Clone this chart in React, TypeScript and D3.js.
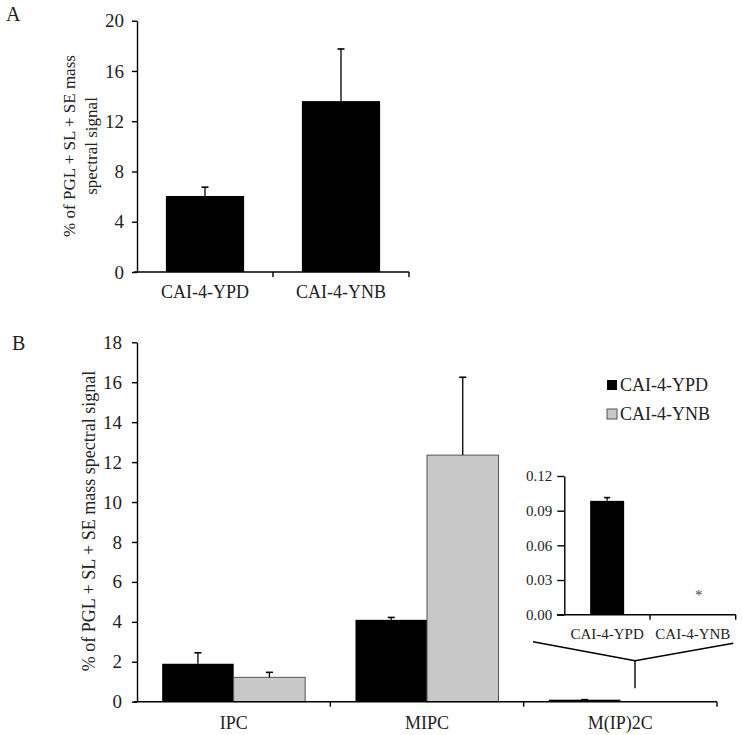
import React, { useEffect, useRef } from 'react'
import * as d3 from 'd3'

// panel A
const strainsA = ['CAI-4-YPD', 'CAI-4-YNB']
const totalA = [6.05, 13.6]
const totalErrA = [0.7, 4.15]
const ticksA = [0, 4, 8, 12, 16, 20]

// panel B
const lipidClasses = ['IPC', 'MIPC', 'M(IP)2C']
const series = ['CAI-4-YPD', 'CAI-4-YNB']
const ypdValues = [1.9, 4.1, 0.1]
const ypdErr = [0.55, 0.12, 0.003]
const ynbValues = [1.22, 12.35, 0]
const ynbErr = [0.25, 3.9, 0]
const ticksB = [0, 2, 4, 6, 8, 10, 12, 14, 16, 18]

// inset (M(IP)2C zoom)
const insetValues = [0.0985, 0]
const insetErr = [0.0028, 0]
const ticksInset = [0, 0.03, 0.06, 0.09, 0.12]

const colors = ['#000000', '#c8c8c8']
const FONT = '"Liberation Serif", "Times New Roman", serif'

const App = () => {
  const ref = useRef<SVGSVGElement>(null)

  useEffect(() => {
    const svg = d3.select(ref.current)
    svg.selectAll('*').remove()
    svg.attr('font-family', FONT)

    const styleAxis = (g: any, fs: number) => {
      g.select('.domain').attr('stroke', '#000').attr('stroke-width', 1.4)
      g.selectAll('.tick line').attr('stroke', '#000').attr('stroke-width', 1.4)
      g.selectAll('.tick text').attr('font-size', fs).attr('font-family', FONT).attr('fill', '#222')
    }

    const errorBars = (g: any, data: { x: number; top: number; y: number }[], cap: number) => {
      data.forEach(d => {
        if (d.top === d.y) return
        g.append('line').attr('x1', d.x).attr('x2', d.x).attr('y1', d.y).attr('y2', d.top)
          .attr('stroke', '#000').attr('stroke-width', 1.3)
        g.append('line').attr('x1', d.x - cap).attr('x2', d.x + cap).attr('y1', d.top).attr('y2', d.top)
          .attr('stroke', '#000').attr('stroke-width', 1.6)
      })
    }

    // ---------- panel A ----------
    const xA = d3.scaleBand().domain(strainsA).range([137, 409])
    const yA = d3.scaleLinear().domain([0, 20]).range([272, 20.7])
    const gA = svg.append('g')
    const bwA = xA.bandwidth() * 0.575

    gA.selectAll('rect').data(strainsA).join('rect')
      .attr('x', d => xA(d)! + (xA.bandwidth() - bwA) / 2)
      .attr('y', (d, i) => yA(totalA[i]))
      .attr('width', bwA)
      .attr('height', (d, i) => yA(0) - yA(totalA[i]))
      .attr('fill', '#000')

    errorBars(gA, strainsA.map((d, i) => ({
      x: xA(d)! + xA.bandwidth() / 2, y: yA(totalA[i]), top: yA(totalA[i] + totalErrA[i])
    })), 3.5)

    gA.append('g').attr('transform', `translate(137,0)`)
      .call(d3.axisLeft(yA).tickValues(ticksA).tickSize(5).tickPadding(8).tickSizeOuter(0))
      .call(g => styleAxis(g, 19))

    const axA = gA.append('g').attr('transform', `translate(0,272)`)
    axA.append('line').attr('x1', 134).attr('x2', 409).attr('stroke', '#000').attr('stroke-width', 1.4)
    strainsA.slice(1).forEach(d => {
      axA.append('line').attr('x1', xA(d)!).attr('x2', xA(d)!).attr('y2', 5).attr('stroke', '#000').attr('stroke-width', 1.4)
    })
    axA.append('line').attr('x1', 409).attr('x2', 409).attr('y2', 5).attr('stroke', '#000').attr('stroke-width', 1.4)
    strainsA.forEach(d => {
      axA.append('text').attr('x', xA(d)! + xA.bandwidth() / 2).attr('y', 26)
        .attr('text-anchor', 'middle').attr('font-size', 18).attr('fill', '#222').text(d)
    })

    const labA = gA.append('text').attr('transform', 'translate(75,146) rotate(-90)')
      .attr('text-anchor', 'middle').attr('font-size', 17).attr('fill', '#222')
    labA.append('tspan').attr('x', 0).attr('dy', 0).text('% of PGL + SL + SE mass')
    labA.append('tspan').attr('x', 0).attr('dy', 22).text('spectral signal')

    svg.append('text').attr('x', 6).attr('y', 21).attr('font-size', 20).attr('fill', '#222').text('A')

    // ---------- panel B ----------
    const x0 = d3.scaleBand().domain(lipidClasses).range([137, 717])
    const x1 = d3.scaleBand().domain(series).range([0, x0.bandwidth()]).paddingInner(0).paddingOuter(0.352)
    const yB = d3.scaleLinear().domain([0, 18]).range([701.7, 342.3])
    const gB = svg.append('g')
    const vals = [ypdValues, ynbValues]
    const errs = [ypdErr, ynbErr]

    const groups = gB.selectAll('g.grp').data(lipidClasses).join('g')
      .attr('class', 'grp')
      .attr('transform', d => `translate(${x0(d)},0)`)

    groups.selectAll('rect')
      .data((d, i) => series.map((s, k) => ({ s, k, v: vals[k][i] })))
      .join('rect')
      .attr('x', d => x1(d.s)!)
      .attr('y', d => yB(d.v))
      .attr('width', x1.bandwidth())
      .attr('height', d => yB(0) - yB(d.v))
      .attr('fill', d => colors[d.k])
      .attr('stroke', d => (d.k === 1 && d.v > 0 ? '#555' : 'none'))
      .attr('stroke-width', 1)

    const ebData: { x: number; y: number; top: number }[] = []
    lipidClasses.forEach((c, i) => {
      series.forEach((s, k) => {
        ebData.push({
          x: x0(c)! + x1(s)! + x1.bandwidth() / 2,
          y: yB(vals[k][i]),
          top: yB(vals[k][i] + errs[k][i])
        })
      })
    })
    errorBars(gB, ebData, 3.5)

    gB.append('g').attr('transform', `translate(137,0)`)
      .call(d3.axisLeft(yB).tickValues(ticksB).tickSize(5).tickPadding(10).tickSizeOuter(0))
      .call(g => styleAxis(g, 19))

    const axB = gB.append('g').attr('transform', `translate(0,701.7)`)
    axB.append('line').attr('x1', 134).attr('x2', 717).attr('stroke', '#000').attr('stroke-width', 1.4)
    lipidClasses.forEach(d => {
      const xe = x0(d)! + x0.bandwidth()
      axB.append('line').attr('x1', xe).attr('x2', xe).attr('y2', 5).attr('stroke', '#000').attr('stroke-width', 1.4)
      axB.append('text').attr('x', x0(d)! + x0.bandwidth() / 2).attr('y', 27)
        .attr('text-anchor', 'middle').attr('font-size', 18).attr('fill', '#222').text(d)
    })

    gB.append('text').attr('transform', 'translate(95,521) rotate(-90)')
      .attr('text-anchor', 'middle').attr('font-size', 18).attr('fill', '#222')
      .text('% of PGL + SL + SE mass spectral signal')

    svg.append('text').attr('x', 12).attr('y', 350).attr('font-size', 20).attr('fill', '#222').text('B')

    // legend
    const leg = svg.append('g').attr('transform', 'translate(607,0)')
    series.forEach((s, k) => {
      const cy = 385 + k * 29
      leg.append('rect').attr('x', 0).attr('y', cy - 5).attr('width', 10).attr('height', 10)
        .attr('fill', colors[k]).attr('stroke', k === 1 ? '#555' : 'none')
      leg.append('text').attr('x', 13).attr('y', cy + 6).attr('font-size', 18).attr('fill', '#222').text(s)
    })

    // ---------- inset ----------
    const xI = d3.scaleBand().domain(series).range([564.3, 735.7])
    const yI = d3.scaleLinear().domain([0, 0.12]).range([614.7, 476])
    const gI = svg.append('g')
    const bwI = 34

    gI.selectAll('rect').data(series).join('rect')
      .attr('x', d => xI(d)! + (xI.bandwidth() - bwI) / 2)
      .attr('y', (d, i) => yI(insetValues[i]))
      .attr('width', bwI)
      .attr('height', (d, i) => yI(0) - yI(insetValues[i]))
      .attr('fill', '#000')

    errorBars(gI, series.map((d, i) => ({
      x: xI(d)! + xI.bandwidth() / 2, y: yI(insetValues[i]), top: yI(insetValues[i] + insetErr[i])
    })), 3)

    gI.append('g').attr('transform', `translate(564.3,0)`)
      .call(d3.axisLeft(yI).tickValues(ticksInset).tickFormat(d3.format('.2f')).tickSize(7).tickPadding(5).tickSizeOuter(0))
      .call(g => styleAxis(g, 15))

    const axI = gI.append('g').attr('transform', `translate(0,614.7)`)
    axI.append('line').attr('x1', 557).attr('x2', 735.7).attr('stroke', '#000').attr('stroke-width', 1.4)
    series.forEach(d => {
      const xe = xI(d)! + xI.bandwidth()
      axI.append('line').attr('x1', xe).attr('x2', xe).attr('y2', 5).attr('stroke', '#000').attr('stroke-width', 1.4)
      axI.append('text').attr('x', xI(d)! + xI.bandwidth() / 2).attr('y', 24)
        .attr('text-anchor', 'middle').attr('font-size', 15).attr('fill', '#222').text(d)
    })

    // asterisk: not detected in YNB
    gI.append('text').attr('x', xI('CAI-4-YNB')! + xI.bandwidth() / 2 + 6).attr('y', yI(0.0125))
      .attr('text-anchor', 'middle').attr('font-size', 15).attr('fill', '#444').text('*')

    // bracket linking inset to M(IP)2C bar
    const bx = 635
    const bracket = d3.line()([[533, 641.7], [bx, 660.7], [733.3, 643.3]])
    gI.append('path').attr('d', bracket).attr('fill', 'none').attr('stroke', '#000').attr('stroke-width', 1.4)
    gI.append('line').attr('x1', bx).attr('x2', bx).attr('y1', 660.7).attr('y2', 688.3)
      .attr('stroke', '#000').attr('stroke-width', 1.4)
  }, [])

  return (
    <svg ref={ref} width={742} height={735}
      style={{ position: 'absolute', left: 0, top: 0, background: '#fff' }} />
  )
}

export default App
